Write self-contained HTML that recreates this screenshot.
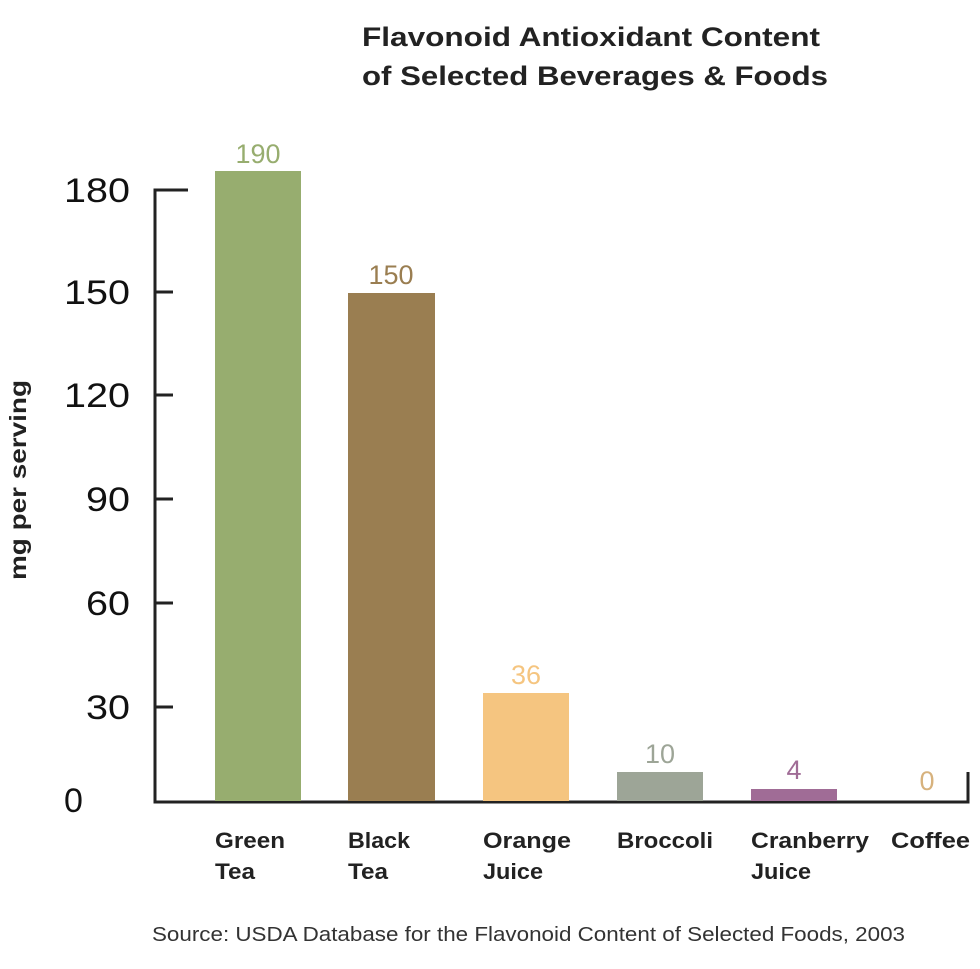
<!DOCTYPE html>
<html><head><style>body{margin:0;background:#fff}svg{display:block}</style></head>
<body>
<svg width="980" height="969" viewBox="0 0 980 969" xmlns="http://www.w3.org/2000/svg" font-family="Liberation Sans, sans-serif">
<text x="362" y="46" font-size="27" font-weight="bold" fill="#222" textLength="458" lengthAdjust="spacingAndGlyphs">Flavonoid Antioxidant Content</text>
<text x="362" y="85" font-size="27" font-weight="bold" fill="#222" textLength="466" lengthAdjust="spacingAndGlyphs">of Selected Beverages &amp; Foods</text>
<g stroke="#222" stroke-width="3" fill="none">
<path d="M188 190 H155 V802 H968 V772"/>
<path d="M155 292 H173 M155 395 H173 M155 499 H173 M155 603 H173 M155 707 H173"/>
</g>
<g font-size="34" fill="#111">
<text x="64" y="202" textLength="66" lengthAdjust="spacingAndGlyphs">180</text>
<text x="64" y="304" textLength="66" lengthAdjust="spacingAndGlyphs">150</text>
<text x="64" y="407" textLength="66" lengthAdjust="spacingAndGlyphs">120</text>
<text x="86" y="511" textLength="44" lengthAdjust="spacingAndGlyphs">90</text>
<text x="86" y="615" textLength="44" lengthAdjust="spacingAndGlyphs">60</text>
<text x="86" y="719" textLength="44" lengthAdjust="spacingAndGlyphs">30</text>
<text x="64" y="812">0</text>
</g>
<text transform="translate(26,480) rotate(-90)" text-anchor="middle" font-size="23" font-weight="bold" fill="#222" textLength="200" lengthAdjust="spacingAndGlyphs">mg per serving</text>
<rect x="215" y="171" width="86" height="630" fill="#97ad6f"/>
<rect x="348" y="293" width="87" height="508" fill="#9a7e51"/>
<rect x="483" y="693" width="86" height="108" fill="#f5c580"/>
<rect x="617" y="772" width="86" height="29" fill="#9da597"/>
<rect x="751" y="789" width="86" height="12" fill="#a06c96"/>
<g font-size="27" text-anchor="middle">
<text x="258" y="163" fill="#97ad6f">190</text>
<text x="391" y="284" fill="#9a7e51">150</text>
<text x="526" y="684" fill="#f5c580">36</text>
<text x="660" y="763" fill="#9da597">10</text>
<text x="794" y="779" fill="#a06c96">4</text>
<text x="927" y="790" fill="#d7b27d">0</text>
</g>
<g font-size="22" font-weight="bold" fill="#222">
<text x="215" y="848" textLength="70" lengthAdjust="spacingAndGlyphs">Green</text><text x="215" y="879" textLength="40" lengthAdjust="spacingAndGlyphs">Tea</text>
<text x="348" y="848" textLength="62" lengthAdjust="spacingAndGlyphs">Black</text><text x="348" y="879" textLength="40" lengthAdjust="spacingAndGlyphs">Tea</text>
<text x="483" y="848" textLength="88" lengthAdjust="spacingAndGlyphs">Orange</text><text x="483" y="879" textLength="60" lengthAdjust="spacingAndGlyphs">Juice</text>
<text x="617" y="848" textLength="96" lengthAdjust="spacingAndGlyphs">Broccoli</text>
<text x="751" y="848" textLength="118" lengthAdjust="spacingAndGlyphs">Cranberry</text><text x="751" y="879" textLength="60" lengthAdjust="spacingAndGlyphs">Juice</text>
<text x="891" y="848" textLength="79" lengthAdjust="spacingAndGlyphs">Coffee</text>
</g>
<text x="152" y="941" font-size="20" fill="#333" textLength="753" lengthAdjust="spacingAndGlyphs">Source: USDA Database for the Flavonoid Content of Selected Foods, 2003</text>
</svg>
</body></html>
